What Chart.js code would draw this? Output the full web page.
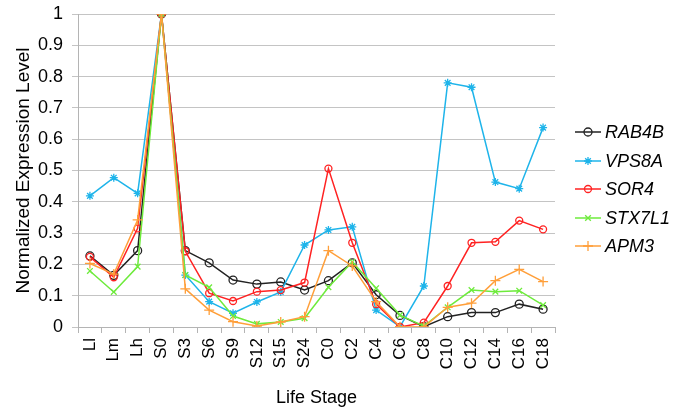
<!DOCTYPE html>
<html>
<head>
<meta charset="utf-8">
<script src="https://cdn.jsdelivr.net/npm/chart.js@4.4.1/dist/chart.umd.min.js"></script>
<style>
  html, body { margin: 0; padding: 0; background: #fff; }
  #wrap { width: 673px; height: 412px; }
</style>
</head>
<body>
<div id="wrap"><canvas id="chart" width="673" height="412"></canvas></div>
<script>
"use strict";

// life stages on the x axis
const stages = ["Ll", "Lm", "Lh", "S0", "S3", "S6", "S9", "S12", "S15", "S24",
  "C0", "C2", "C4", "C6", "C8", "C10", "C12", "C14", "C16", "C18"];

const rab4b = [0.227, 0.165, 0.244, 1, 0.244, 0.205, 0.150, 0.137, 0.144, 0.118,
  0.148, 0.205, 0.103, 0.037, 0.001, 0.033, 0.046, 0.046, 0.073, 0.057];
const vps8a = [0.419, 0.477, 0.427, 1, 0.166, 0.081, 0.044, 0.080, 0.112, 0.262,
  0.310, 0.320, 0.054, 0.001, 0.131, 0.780, 0.766, 0.463, 0.442, 0.637];
const sor4 = [0.224, 0.159, 0.315, 1, 0.242, 0.108, 0.083, 0.113, 0.118, 0.142,
  0.506, 0.269, 0.073, 0.000, 0.014, 0.131, 0.269, 0.272, 0.340, 0.312];
const stx7l1 = [0.179, 0.112, 0.193, 1, 0.166, 0.127, 0.035, 0.010, 0.016, 0.028,
  0.127, 0.208, 0.124, 0.038, 0.003, 0.063, 0.118, 0.113, 0.116, 0.070];
const apm3 = [0.203, 0.169, 0.342, 1, 0.122, 0.054, 0.017, 0.003, 0.016, 0.033,
  0.244, 0.195, 0.081, 0.001, 0.000, 0.063, 0.076, 0.148, 0.184, 0.145];

const FONT = "'Liberation Sans', Arial, sans-serif";

function series(label, data, color, style, radius, order) {
  return {
    label: label,
    data: data,
    borderColor: color,
    backgroundColor: "rgba(255,255,255,0)",
    borderWidth: 1.5,
    pointStyle: style,
    pointRadius: radius,
    pointBorderColor: color,
    pointBorderWidth: 1.3,
    order: order,
    tension: 0
  };
}

// legend at right: short line with marker, then italic name
const sideLegend = {
  id: "sideLegend",
  afterDraw(chart) {
    const ctx = chart.ctx;
    const ys = [132, 161, 189, 218, 246];
    chart.data.datasets.forEach(function(ds, i) {
      let y = ys[i];
      ctx.save();
      ctx.strokeStyle = ds.borderColor;
      ctx.fillStyle = "rgba(255,255,255,0)";
      ctx.lineWidth = 1.5;
      ctx.beginPath();
      ctx.moveTo(575, y);
      ctx.lineTo(601, y);
      ctx.stroke();
      ctx.lineWidth = 1.3;
      Chart.helpers.drawPoint(ctx, {
        pointStyle: ds.pointStyle,
        radius: ds.pointRadius,
        borderWidth: 1.3
      }, 588, y);
      ctx.fillStyle = "#000";
      ctx.font = "italic 18px " + FONT;
      ctx.textBaseline = "middle";
      ctx.fillText(ds.label, 605, y + 1);
      ctx.restore();
    });
  }
};

new Chart(document.getElementById("chart"), {
  type: "line",
  data: {
    labels: stages,
    datasets: [
      series("RAB4B", rab4b, "#222222", "circle", 4, 5),
      series("VPS8A", vps8a, "#1EB4EA", "star", 4, 4),
      series("SOR4", sor4, "#FF2222", "circle", 3.5, 3),
      series("STX7L1", stx7l1, "#6EEB3C", "crossRot", 4, 2),
      series("APM3", apm3, "#FF9F3A", "cross", 5, 1)
    ]
  },
  options: {
    responsive: false,
    animation: false,
    layout: { padding: { top: 14, right: 118, left: 0, bottom: 0 } },
    plugins: {
      legend: { display: false },
      tooltip: { enabled: false }
    },
    scales: {
      x: {
        offset: true,
        grid: {
          offset: true,
          drawOnChartArea: false,
          drawTicks: true,
          tickLength: 6,
          color: "#b4b4b4"
        },
        border: { color: "#b4b4b4" },
        ticks: {
          color: "#000",
          font: { family: FONT, size: 17 },
          minRotation: 90,
          maxRotation: 90,
          padding: 5,
          autoSkip: false
        },
        title: {
          display: true,
          text: "Life Stage",
          color: "#000",
          font: { family: FONT, size: 18 },
          padding: { top: 4, bottom: 3 }
        },
        afterFit(scale) { scale.height = 85; }
      },
      y: {
        min: 0,
        max: 1,
        grid: { color: "#c4c4c4", drawTicks: true, tickLength: 6 },
        border: { color: "#b4b4b4" },
        ticks: {
          stepSize: 0.1,
          color: "#000",
          font: { family: FONT, size: 18 },
          padding: 9,
          callback: function(v) { return String(Number(v.toFixed(1))); }
        },
        title: {
          display: true,
          text: "Normalized Expression Level",
          color: "#000",
          font: { family: FONT, size: 19 },
          padding: { top: 12, bottom: 0 }
        },
        afterFit(scale) {
          scale.width = 78;
          scale.paddingTop = 0;
          scale.paddingBottom = 0;
        }
      }
    }
  },
  plugins: [sideLegend]
});
</script>
</body>
</html>
